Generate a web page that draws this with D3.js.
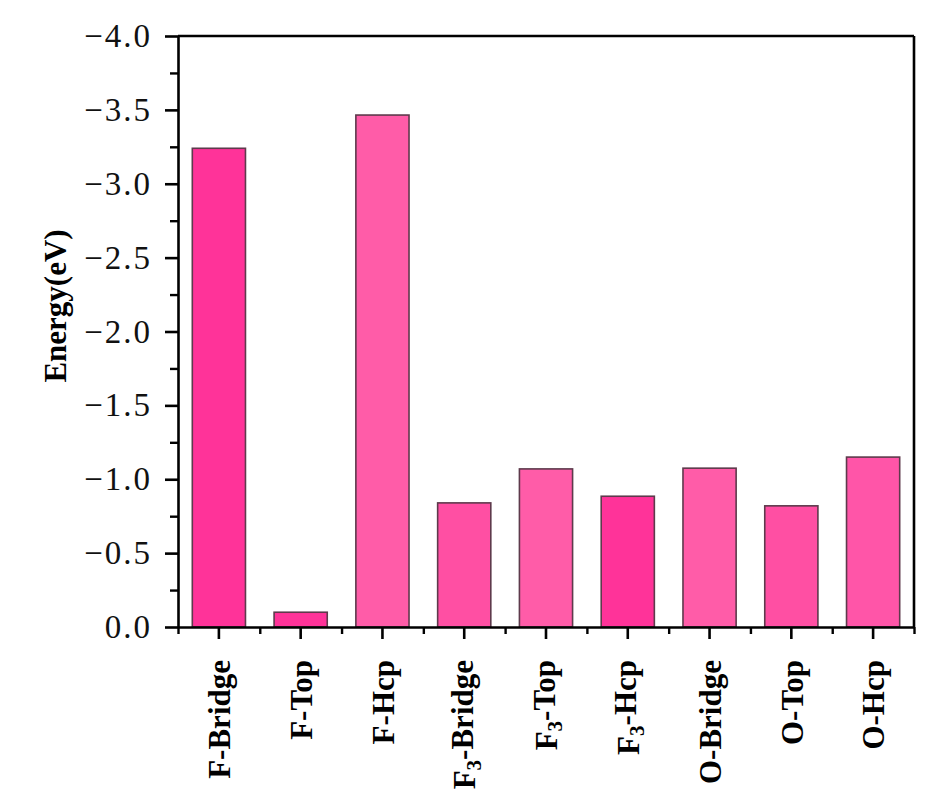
<!DOCTYPE html>
<html>
<head>
<meta charset="utf-8">
<script src="https://cdn.jsdelivr.net/npm/d3@7"></script>
<style>
  html, body { margin: 0; padding: 0; background: #fff; }
  svg { display: block; }
</style>
</head>
<body>
<svg id="chart" width="942" height="812"></svg>
<script>
// ---- data ----
const categories = ["F-Bridge", "F-Top", "F-Hcp", "F3-Bridge", "F3-Top", "F3-Hcp", "O-Bridge", "O-Top", "O-Hcp"];
const energies = [-3.24, -0.10, -3.465, -0.84, -1.07, -0.885, -1.075, -0.82, -1.15];
const barColors = ["#ff3399", "#ff3399", "#ff5ca8", "#ff4fa3", "#ff5ca8", "#ff3399", "#ff5ca8", "#ff4fa3", "#ff55a8"];
const yTicks = [0, -0.5, -1.0, -1.5, -2.0, -2.5, -3.0, -3.5, -4.0];
const yMinorTicks = [-0.25, -0.75, -1.25, -1.75, -2.25, -2.75, -3.25, -3.75];
const yTitle = "Energy(eV)";

// ---- layout ----
const L = 178, R = 914, T = 36, B = 627;
const svg = d3.select("#chart");

const x = d3.scaleBand().domain(categories).range([L, R]).paddingInner(0.35).paddingOuter(0.175);
const xMinor = d3.scaleLinear().domain([0, categories.length]).range([L, R]);
const y = d3.scaleLinear().domain([0, -4]).range([B, T]);

// bars
svg.append("g").selectAll("rect").data(categories).join("rect")
  .attr("x", d => x(d))
  .attr("width", x.bandwidth())
  .attr("y", (d, i) => y(energies[i]))
  .attr("height", (d, i) => y(0) - y(energies[i]))
  .attr("fill", (d, i) => barColors[i])
  .attr("stroke", "#5e3a4c")
  .attr("stroke-width", 1.6);

// frame top/right
svg.append("line").attr("x1", L).attr("x2", R).attr("y1", T).attr("y2", T)
  .attr("stroke", "#000").attr("stroke-width", 2.6);
svg.append("line").attr("x1", R).attr("x2", R).attr("y1", T).attr("y2", B)
  .attr("stroke", "#000").attr("stroke-width", 2.6);

// y minor ticks
const yMinorG = svg.append("g").attr("transform", `translate(${L},0)`)
  .call(d3.axisLeft(y).tickValues(yMinorTicks).tickSize(8).tickFormat(""));
yMinorG.select(".domain").remove();
yMinorG.selectAll("line").attr("stroke", "#000").attr("stroke-width", 2.4);

// y major axis
const yG = svg.append("g").attr("transform", `translate(${L},0)`)
  .call(d3.axisLeft(y).tickValues(yTicks).tickSize(13).tickSizeOuter(0).tickPadding(13).tickFormat(d3.format(".1f")));
yG.select(".domain").attr("stroke", "#000").attr("stroke-width", 2.6);
yG.selectAll(".tick line").attr("stroke", "#000").attr("stroke-width", 2.6);
yG.selectAll(".tick text")
  .attr("font-family", "'Liberation Serif', 'DejaVu Serif', serif")
  .attr("font-size", 33)
  .attr("letter-spacing", "2px")
  .attr("fill", "#111");

// x minor ticks
const xMinorG = svg.append("g").attr("transform", `translate(0,${B})`)
  .call(d3.axisBottom(xMinor).tickValues(d3.range(0, categories.length + 1)).tickSize(7).tickFormat(""));
xMinorG.select(".domain").remove();
xMinorG.selectAll("line").attr("stroke", "#000").attr("stroke-width", 2.4);

// x major axis
const xG = svg.append("g").attr("transform", `translate(0,${B})`)
  .call(d3.axisBottom(x).tickSize(12).tickSizeOuter(0).tickFormat(""));
xG.select(".domain").attr("stroke", "#000").attr("stroke-width", 2.6);
xG.selectAll(".tick line").attr("stroke", "#000").attr("stroke-width", 2.6);

// x labels (rotated, with subscript)
xG.selectAll(".tick").each(function(d) {
  const t = d3.select(this).append("text")
    .attr("transform", "translate(0,33) rotate(-90)")
    .attr("text-anchor", "end")
    .attr("dy", "0.36em")
    .attr("font-family", "'Liberation Serif', 'Times New Roman', serif")
    .attr("font-weight", "bold")
    .attr("font-size", 31)
    .attr("fill", "#000");
  const m = d.match(/^([A-Z])(\d)(-.*)$/);
  if (m) {
    t.append("tspan").text(m[1]);
    t.append("tspan").text(m[2]).attr("font-size", 21).attr("dy", "0.25em");
    t.append("tspan").text(m[3]).attr("dy", "-0.25em");
  } else {
    t.text(d);
  }
});

// y title
svg.append("text")
  .attr("transform", "translate(66,306) rotate(-90)")
  .attr("text-anchor", "middle")
  .attr("font-family", "'Liberation Serif', 'Times New Roman', serif")
  .attr("font-weight", "bold")
  .attr("font-size", 31)
  .attr("fill", "#000")
  .text(yTitle);
</script>
</body>
</html>
